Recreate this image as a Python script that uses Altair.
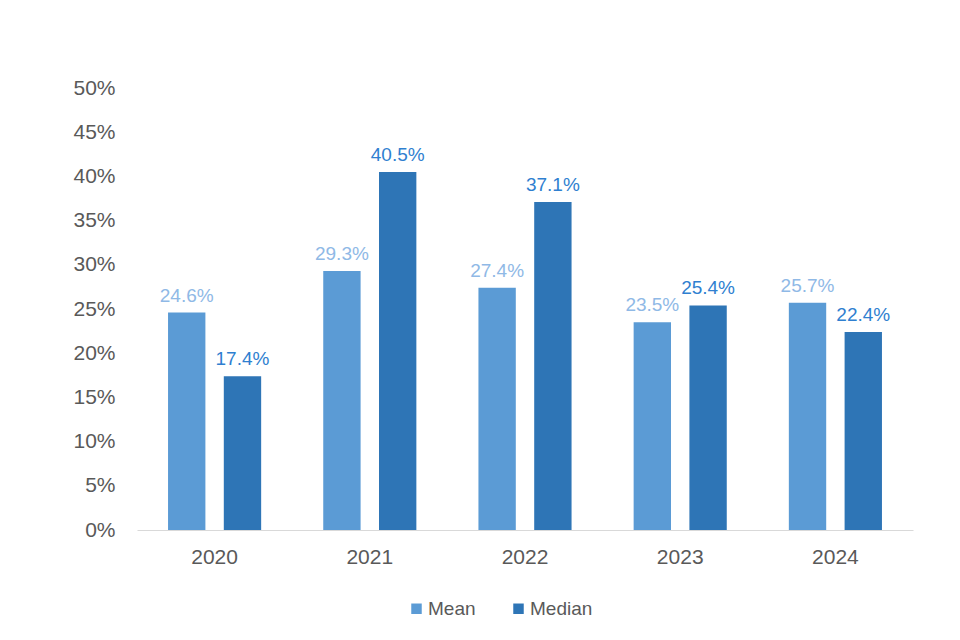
import altair as alt
import pandas as pd

years = ["2020", "2021", "2022", "2023", "2024"]
mean_vals = [24.6, 29.3, 27.4, 23.5, 25.7]
median_vals = [17.4, 40.5, 37.1, 25.4, 22.4]
series = ["Mean", "Median"]
bar_colors = ["#5B9BD5", "#2E75B6"]
label_colors = {"Mean": "#8FB9E6", "Median": "#2F7FD0"}

rows = []
for i, y in enumerate(years):
    rows.append({"year": y, "series": "Mean", "value": mean_vals[i], "lc": label_colors["Mean"]})
    rows.append({"year": y, "series": "Median", "value": median_vals[i], "lc": label_colors["Median"]})
df = pd.DataFrame(rows)

FONT = "Liberation Sans"

x = alt.X("year:N", title=None, sort=years,
          scale=alt.Scale(paddingInner=0.4, paddingOuter=0.2),
          axis=alt.Axis(labelAngle=0, labelFontSize=21, labelColor="#595959", labelFont=FONT,
                        ticks=False, domainColor="#D9D9D9", domainWidth=1, labelPadding=16))
xo = alt.XOffset("series:N", sort=series, scale=alt.Scale(paddingInner=0.33, paddingOuter=0))
y = alt.Y("value:Q", title=None,
          scale=alt.Scale(domain=[0, 50], nice=False),
          axis=alt.Axis(values=list(range(0, 55, 5)), labelExpr="datum.value + '%'",
                        labelFontSize=21, labelColor="#595959", labelFont=FONT,
                        ticks=False, domain=False, grid=False, labelPadding=22))

bars = alt.Chart(df).mark_bar().encode(
    x=x, xOffset=xo, y=y,
    color=alt.Color("series:N", sort=series,
                    scale=alt.Scale(domain=series, range=bar_colors),
                    legend=alt.Legend(title=None, orient="none", legendX=270, legendY=511,
                                      direction="horizontal", symbolType="square",
                                      symbolSize=110, symbolStrokeWidth=0,
                                      labelFontSize=19, labelColor="#595959", labelFont=FONT,
                                      labelOffset=2, columnPadding=33)),
)

labels = alt.Chart(df).transform_calculate(
    txt="format(datum.value, '.1f') + '%'"
).mark_text(baseline="bottom", dy=-7, fontSize=19, font=FONT).encode(
    x=x, xOffset=xo, y=y,
    text="txt:N",
    color=alt.Color("lc:N", scale=None),
)

chart = alt.layer(bars, labels).properties(
    width=776, height=442,
    background="white",
    autosize=alt.AutoSizeParams(type="none"),
    padding={"left": 129, "top": 80, "right": 39, "bottom": 102},
).configure_view(strokeWidth=0)

chart.save("out.html", embed_options={"renderer": "svg", "actions": False})
